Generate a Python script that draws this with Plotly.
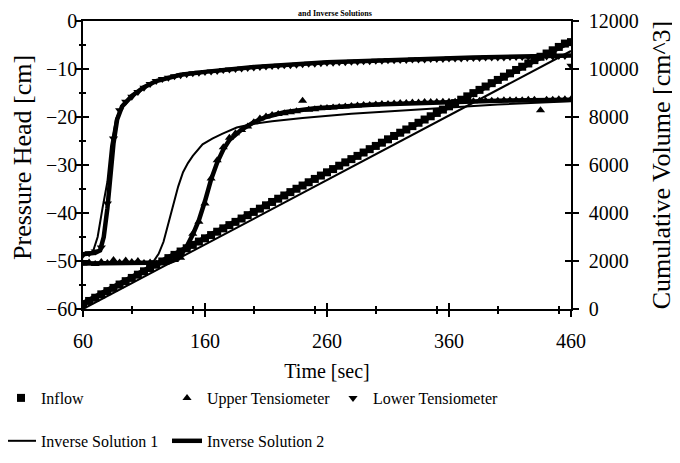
import plotly.graph_objects as go

# measured data (every 5 s)
time = list(range(60, 460, 5)) + [460]

inflow = [200, 335, 470, 610, 745, 880, 1020, 1160, 1295, 1430, 1570, 1705, 1845, 1980,
          2120, 2255, 2395, 2530, 2670, 2810, 2945, 3080, 3220, 3360, 3495, 3630, 3770,
          3910, 4045, 4180, 4320, 4460, 4595, 4730, 4870, 5010, 5145, 5280, 5420, 5560,
          5695, 5830, 5970, 6110, 6245, 6380, 6520, 6660, 6795, 6930, 7070, 7210, 7345,
          7480, 7620, 7760, 7895, 8030, 8170, 8310, 8445, 8580, 8720, 8860, 8995, 9130,
          9270, 9410, 9545, 9680, 9820, 9960, 10095, 10230, 10370, 10510, 10645, 10780,
          10920, 11060, 11120]

upper = [-50.5, -50.3, -50.6, -50.2, -50.4, -49.8, -50.3, -49.9, -50.2, -50.0, -50.4,
         -50.3, -50.5, -50.2, -50.0, -49.8, -49.3, -47.2, -44.3, -41.8, -38.0, -32.8,
         -29.0, -26.3, -24.3, -23.4, -22.7, -22.0, -21.1, -20.3, -19.9, -19.6, -19.4,
         -19.2, -19.0, -18.8, -16.6, -18.5, -18.4, -18.2, -18.1, -18.0, -17.9, -17.8,
         -17.7, -17.6, -17.5, -17.5, -17.4, -17.3, -17.3, -17.2, -17.1, -17.1, -17.0,
         -17.0, -16.9, -16.9, -16.9, -16.8, -16.8, -16.8, -16.7, -16.7, -16.7, -16.6,
         -16.6, -16.6, -16.6, -16.5, -16.5, -16.5, -16.5, -16.4, -16.4, -18.6, -16.4,
         -16.4, -16.3, -16.3, -16.3]

lower = [-48.7, -48.4, -48.0, -47.2, -38.0, -24.5, -18.6, -16.8, -15.8, -14.8, -13.9,
         -13.1, -12.5, -12.1, -11.8, -11.5, -11.3, -11.1, -10.9, -10.8, -10.6, -10.5,
         -10.4, -10.2, -10.1, -10.0, -9.9, -9.8, -9.7, -9.6, -9.5, -9.4, -9.3, -9.2,
         -9.2, -9.1, -9.0, -8.9, -8.9, -8.8, -8.7, -8.7, -8.6, -8.6, -8.5, -8.5, -8.4,
         -8.4, -8.3, -8.3, -8.2, -8.2, -8.1, -8.1, -8.0, -8.0, -8.0, -7.9, -7.9, -7.9,
         -7.8, -7.8, -7.8, -7.7, -7.7, -7.7, -7.6, -7.6, -7.6, -7.6, -7.5, -7.5, -7.5,
         -7.5, -7.4, -7.4, -7.4, -7.4, -7.3, -7.3, -9.3]

# inverse solutions
inv1_inflow_t = [60, 160, 260, 360, 460]
inv1_inflow = [0, 2680, 5360, 8040, 10750]
inv2_inflow_t = [60, 160, 260, 360, 460]
inv2_inflow = [250, 2980, 5720, 8460, 11150]

inv1_upper_t = [60, 110, 118, 122, 126, 130, 134, 138, 142, 146, 150, 158, 166, 174,
                186, 200, 215, 240, 280, 340, 400, 460]
inv1_upper = [-50.5, -50.4, -50.0, -48.5, -46.0, -42.0, -38.0, -34.5, -31.5, -29.6,
              -28.1, -25.7, -24.5, -23.5, -22.2, -21.4, -20.9, -20.2, -19.3, -18.4,
              -17.4, -16.7]
inv2_upper_t = [60, 130, 138, 145, 150, 155, 160, 165, 170, 175, 180, 190, 200, 210,
                225, 250, 300, 350, 400, 460]
inv2_upper = [-50.5, -50.3, -49.5, -47.0, -44.5, -41.5, -37.5, -33.0, -29.5, -26.8,
              -24.8, -22.6, -21.1, -20.0, -19.0, -18.2, -17.4, -16.9, -16.6, -16.4]

inv1_lower_t = [60, 65, 68, 72, 76, 80, 83, 87, 92, 100, 110, 120, 140, 160, 200, 260,
                320, 380, 460]
inv1_lower = [-48.6, -48.5, -48.2, -45.0, -39.0, -33.5, -26.0, -20.5, -17.5, -15.4,
              -13.7, -12.4, -11.1, -10.5, -9.6, -8.7, -8.1, -7.7, -7.3]
inv2_lower_t = [60, 70, 74, 77, 80, 82, 85, 88, 92, 100, 110, 120, 140, 160, 200, 260,
                320, 380, 460]
inv2_lower = [-48.6, -48.3, -47.8, -45.0, -39.0, -34.0, -25.5, -20.5, -17.8, -15.6,
              -13.8, -12.5, -11.2, -10.6, -9.6, -8.6, -8.0, -7.6, -7.2]

FONT = 'Liberation Serif'
INK = 'black'

fig = go.Figure()

# legend 1: data markers
fig.add_trace(go.Scatter(x=time, y=inflow, yaxis='y2', mode='markers', name='Inflow',
                         marker=dict(symbol='square', size=8, color=INK), legend='legend'))
fig.add_trace(go.Scatter(x=time, y=upper, mode='markers', name='Upper Tensiometer',
                         marker=dict(symbol='triangle-up', size=8, color=INK), legend='legend'))
fig.add_trace(go.Scatter(x=time, y=lower, mode='markers', name='Lower Tensiometer',
                         marker=dict(symbol='triangle-down', size=8, color=INK), legend='legend'))

# legend 2: inverse solutions
thin = dict(color=INK, width=2)
thick = dict(color=INK, width=4.5)
fig.add_trace(go.Scatter(x=inv1_upper_t, y=inv1_upper, mode='lines', line=thin,
                         name='Inverse Solution 1', legendgroup='inv1', legend='legend2'))
fig.add_trace(go.Scatter(x=inv1_lower_t, y=inv1_lower, mode='lines', line=thin,
                         legendgroup='inv1', showlegend=False))
fig.add_trace(go.Scatter(x=inv1_inflow_t, y=inv1_inflow, yaxis='y2', mode='lines', line=thin,
                         legendgroup='inv1', showlegend=False))
fig.add_trace(go.Scatter(x=inv2_upper_t, y=inv2_upper, mode='lines', line=thick,
                         name='Inverse Solution 2', legendgroup='inv2', legend='legend2'))
fig.add_trace(go.Scatter(x=inv2_lower_t, y=inv2_lower, mode='lines', line=thick,
                         legendgroup='inv2', showlegend=False))
fig.add_trace(go.Scatter(x=inv2_inflow_t, y=inv2_inflow, yaxis='y2', mode='lines', line=thick,
                         legendgroup='inv2', showlegend=False))

# empty traces so the overlay axes get drawn (ticks crossing the axis lines)
for xa, ya in [('x2', 'y'), ('x', 'y3'), ('x', 'y4')]:
    fig.add_trace(go.Scatter(x=[None], y=[None], xaxis=xa, yaxis=ya,
                             showlegend=False, hoverinfo='skip'))

tickfont = dict(family=FONT, size=20, color=INK)
axis_common = dict(showgrid=False, zeroline=False, linecolor=INK, linewidth=1.5,
                   tickcolor=INK, tickwidth=1.5, automargin=False)
legend_common = dict(orientation='h', x=-0.168, xanchor='left', yanchor='middle',
                     entrywidth=121, traceorder='normal',
                     font=dict(family=FONT, size=16, color=INK), bgcolor='rgba(0,0,0,0)')

# the page body adds 8px around the figure, so the figure is 8px smaller than the window
fig.update_layout(
    width=672, height=455,
    margin=dict(l=75, r=109, t=13, b=154, autoexpand=False),
    paper_bgcolor='white', plot_bgcolor='white',
    font=dict(family=FONT, color=INK, size=16),
    xaxis=dict(**axis_common, range=[60, 460], tick0=60, dtick=100, ticks='outside',
               ticklen=6, minor=dict(ticks='outside', ticklen=3, dtick=50, tickcolor=INK),
               showline=True, mirror=True, tickfont=tickfont, ticklabelstandoff=7,
               ticklabeloverflow='allow',
               title=dict(text='Time [sec]', font=dict(family=FONT, size=20), standoff=13)),
    xaxis2=dict(**axis_common, overlaying='x', range=[60, 460], tick0=60, dtick=100,
                ticks='inside', ticklen=6, showticklabels=False, showline=False,
                minor=dict(ticks='inside', ticklen=3, dtick=50, tickcolor=INK)),
    yaxis=dict(**axis_common, range=[-60, 0], tick0=-60, dtick=10, ticks='inside',
               ticklen=6, minor=dict(ticks='inside', ticklen=3, dtick=5, tickcolor=INK),
               showline=True, tickfont=tickfont, ticklabelstandoff=0,
               ticklabeloverflow='allow'),
    yaxis3=dict(**axis_common, overlaying='y', side='left', range=[-60, 0], tick0=-60,
                dtick=10, ticks='outside', ticklen=6, showticklabels=False, showline=False,
                minor=dict(ticks='outside', ticklen=3, dtick=5, tickcolor=INK)),
    yaxis2=dict(**axis_common, overlaying='y', side='right', range=[0, 12000], dtick=2000,
                tickformat='d', ticks='outside', ticklen=6, showline=True, tickfont=tickfont,
                ticklabelstandoff=6, ticklabeloverflow='allow',
                title=dict(text='Cumulative Volume [cm^3]', font=dict(family=FONT, size=26),
                           standoff=14)),
    yaxis4=dict(**axis_common, overlaying='y', side='right', range=[0, 12000], dtick=2000,
                ticks='inside', ticklen=6, showticklabels=False, showline=False),
    legend=dict(**legend_common, y=-0.309),
    legend2=dict(**legend_common, y=-0.458),
    annotations=[
        dict(text='<b>and Inverse Solutions</b>', xref='paper', yref='paper',
             x=0.516, y=1.026, xanchor='center', yanchor='middle', showarrow=False,
             font=dict(family=FONT, size=8, color=INK)),
        dict(text='Pressure Head [cm]', xref='paper', yref='paper', textangle=-90,
             x=-0.123, y=0.528, xanchor='center', yanchor='middle', showarrow=False,
             font=dict(family=FONT, size=26, color=INK)),
    ],
)

fig.write_html("out.html")
